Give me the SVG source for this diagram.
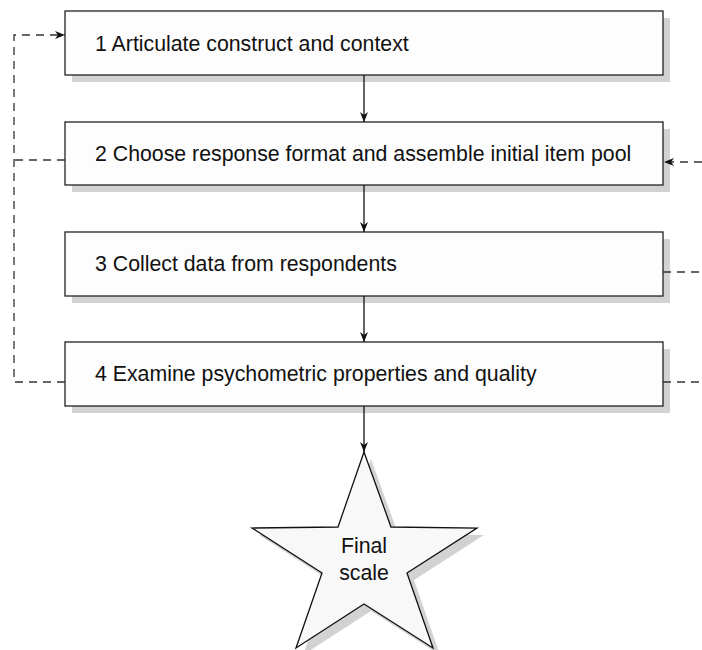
<svg xmlns="http://www.w3.org/2000/svg" width="702" height="650" viewBox="0 0 702 650">
<style>
.box{fill:#fdfdfd;stroke:#222;stroke-width:1.3}
.shadow{fill:#d2d2d2}
.t{font-family:"Liberation Sans",Arial,sans-serif;font-size:21.3px;fill:#111}
.solid{stroke:#111;stroke-width:1.3;fill:none}
.dash{stroke:#333;stroke-width:1.3;fill:none;stroke-dasharray:8 6}
</style>
<defs>
<marker id="ah" viewBox="0 0 10 10" refX="10" refY="5" markerWidth="10" markerHeight="10" markerUnits="userSpaceOnUse" orient="auto">
<path d="M0,1 L10,5 L0,9 L3,5 Z" fill="#111"/>
</marker>
</defs>
<rect width="702" height="650" fill="#fff"/>
<g id="n1">
<rect class="shadow" x="72" y="18" width="598" height="64"/>
<rect class="box" x="65" y="11" width="598" height="64"/>
<text class="t" x="95" y="51">1 Articulate construct and context</text>
</g>
<g id="n2">
<rect class="shadow" x="72" y="129" width="598" height="63"/>
<rect class="box" x="65" y="122" width="598" height="63"/>
<text class="t" x="95" y="161">2 Choose response format and assemble initial item pool</text>
</g>
<g id="n3">
<rect class="shadow" x="72" y="239" width="598" height="64"/>
<rect class="box" x="65" y="232" width="598" height="64"/>
<text class="t" x="95" y="271">3 Collect data from respondents</text>
</g>
<g id="n4">
<rect class="shadow" x="72" y="349" width="598" height="64"/>
<rect class="box" x="65" y="342" width="598" height="64"/>
<text class="t" x="95" y="381">4 Examine psychometric properties and quality</text>
</g>
<g id="n5">
<polygon class="shadow" transform="translate(7,7)" points="364,452 391,527 477,528 407,573 433,648 364,604 296,648 322,573 252,528 338,527"/>
<polygon points="364,452 391,527 477,528 407,573 433,648 364,604 296,648 322,573 252,528 338,527" fill="#f8f8f8" stroke="#111" stroke-width="1.3"/>
<text class="t" x="364" y="553" text-anchor="middle">Final</text>
<text class="t" x="364" y="580" text-anchor="middle">scale</text>
</g>
<g id="connectors">
<line class="solid" x1="364" y1="75" x2="364" y2="122" marker-end="url(#ah)"/>
<line class="solid" x1="364" y1="185" x2="364" y2="232" marker-end="url(#ah)"/>
<line class="solid" x1="364" y1="296" x2="364" y2="342" marker-end="url(#ah)"/>
<line class="solid" x1="364" y1="406" x2="364" y2="452" marker-end="url(#ah)"/>
<polyline class="dash" points="65,382 14,382 14,35 65,35" marker-end="url(#ah)"/>
<line class="dash" x1="65" y1="160" x2="14" y2="160"/>
<line class="dash" x1="702" y1="162" x2="664" y2="162" marker-end="url(#ah)"/>
<line class="dash" x1="663" y1="272" x2="702" y2="272"/>
<line class="dash" x1="663" y1="382" x2="702" y2="382"/>
</g>
</svg>
